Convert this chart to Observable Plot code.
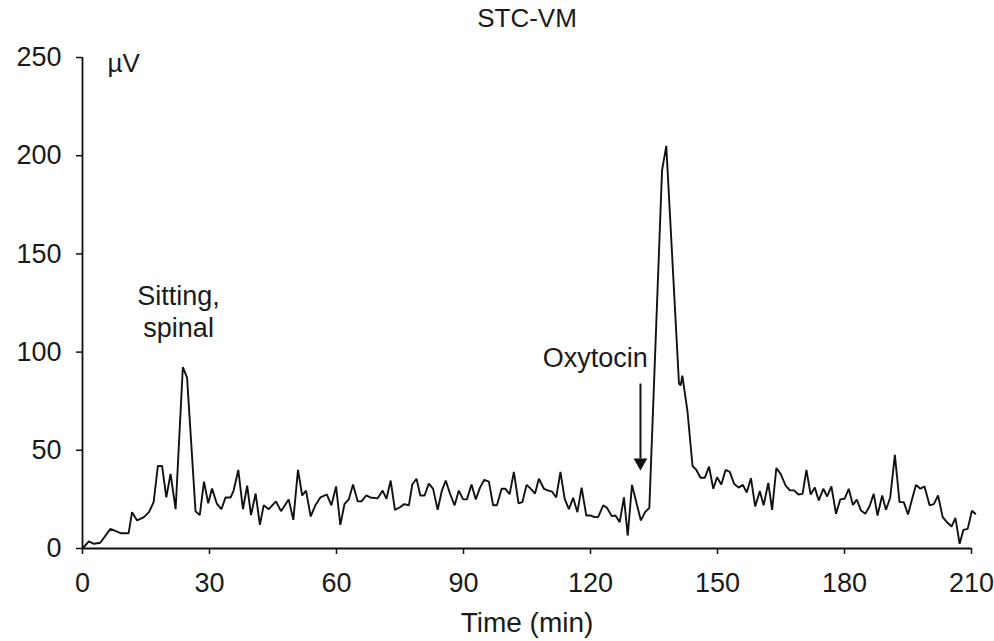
<!DOCTYPE html>
<html>
<head>
<meta charset="utf-8">
<script src="https://cdn.jsdelivr.net/npm/d3@7"></script>
<script src="https://cdn.jsdelivr.net/npm/@observablehq/plot@0.6"></script>
<style>
  body { margin: 0; background: #fff; }
</style>
</head>
<body>
<div id="chart"></div>
<script>
// ---- data ----
const title = "STC-VM";
const xLabel = "Time (min)";
const yUnit = "µV";
const xTicks = [0, 30, 60, 90, 120, 150, 180, 210];
const yTicks = [0, 50, 100, 150, 200, 250];

const time = [
  0, 1.5, 2.7, 4.2, 6.6, 9, 10.9, 11.7, 12.9, 14.5, 15.7, 16.8, 17.8, 18.8, 19.8, 20.8, 22,
  23.7, 24.7, 26.7, 27.7, 28.7, 29.7, 30.6, 31.7, 32.8, 33.8, 35, 35.7, 36.8, 37.9, 38.9, 39.8,
  40.9, 41.9, 42.8, 44, 45.7, 46.9, 48.7, 49.8, 50.9, 51.9, 52.8, 53.9, 55, 56.2, 57.7, 58.8,
  59.9, 60.9, 61.9, 62.9, 63.9, 65, 65.9, 67, 68, 69.7, 70.9, 71.8, 72.8, 73.8, 75, 76, 77.1,
  77.9, 78.9, 79.8, 80.8, 81.8, 82.8, 83.9, 84.9, 85.8, 86.8, 87.9, 88.9, 89.9, 90.8, 91.9,
  92.9, 93.9, 94.9, 96, 97, 97.9, 99, 99.9, 100.9, 101.9, 103, 103.9, 104.9, 105.9, 106.9,
  107.8, 109, 109.9, 110.9, 111.9, 112.9, 113.9, 114.9, 115.9, 116.9, 117.9, 119, 120, 121,
  121.8, 123, 123.9, 125, 125.9, 126.9, 127.9, 128.8, 129.8, 131, 131.9, 132.9, 133.9,
  136.9, 137.9, 140.9, 141.3, 141.7, 142.9, 144.1, 145, 146, 147, 148, 149, 149.9, 150.9,
  151.9, 152.9, 153.9, 155, 156, 156.9, 157.9, 158.9, 160, 160.9, 162, 162.9, 163.9, 164.9,
  166.1, 167.1, 168.1, 169.1, 170.1, 171, 172, 173, 173.9, 175, 175.9, 176.9, 178, 179, 180,
  181, 182, 182.9, 183.9, 184.9, 185.9, 186.9, 187.8, 188.9, 189.8, 190.8, 191.9, 193, 194,
  195, 196, 196.9, 197.9, 198.9, 200.1, 201.1, 202.1, 203.2, 204.2, 205.3, 206.2, 207.2,
  208.1, 209.1, 210.1, 210.9
];
const microvolts = [
  0, 3.6, 2.4, 2.9, 10, 7.8, 7.8, 18.5, 14.3, 16, 18.5, 23.6, 42, 42, 26, 38, 20,
  92.3, 87, 19, 17, 34, 23, 30.5, 23, 20, 26, 26, 29.5, 40, 20, 32, 17,
  28, 12, 22, 20, 24, 19, 25, 14.6, 40, 27, 29.5, 16.3, 22, 26, 27.5, 22,
  31.6, 12, 22.7, 25, 32.6, 24, 24, 27, 26, 25.5, 29.5, 25.3, 34.6, 19.7, 21, 22.6, 22,
  32.6, 35.5, 27, 27, 33, 30.5, 19.7, 29.5, 34.6, 28, 22, 29.5, 25, 25, 32.6,
  25, 31, 35, 34, 22, 22, 30.4, 30.4, 27.7, 39, 23, 23.6, 32.4, 30.4, 28,
  35.5, 30.4, 29.6, 29, 26, 39, 25.3, 20, 25.8, 18.5, 31, 16.8, 16.8, 16,
  16, 22, 20.7, 16.5, 16.8, 13.4, 26, 6.6, 32.4, 22, 14.3, 18.5, 20.7,
  192.5, 205, 84, 83, 88, 70, 42, 40, 36, 36, 41.7, 30.4, 36.3, 32.6,
  40, 39, 33, 31, 32.4, 28.5, 35.8, 21.4, 29.2, 22, 33.4, 19.7, 41, 38,
  32, 29.6, 29.6, 27.5, 27.8, 40, 27.5, 31, 24.4, 30.4, 26.5, 31.6, 17.7, 25, 25.3,
  30.4, 22.2, 24.9, 19.3, 17.7, 21.4, 27.8, 16.8, 27, 19.7, 26, 47.7, 23.6, 23.6,
  17.3, 25.5, 32.4, 30.4, 31.6, 22, 22.6, 27, 16, 13.4, 11.2, 15.6, 2.4,
  9.5, 10, 19.3, 17.7
];

// annotations (positions in data units)
const noteLabels = ["Sitting,\nspinal", "Oxytocin"];
const noteTimes = [22.7, 121.1];
const noteValues = [121, 97.8];
const arrowTimes = [131.8];
const arrowStart = [84];
const arrowEnd = [45.8];
const arrowTip = [43.8];

// ---- build tables ----
const series = time.map((t, i) => ({t, v: microvolts[i]}));
const notes = noteLabels.map((label, i) => ({label, t: noteTimes[i], v: noteValues[i]}));
const arrows = arrowTimes.map((t, i) => ({t, from: arrowStart[i], to: arrowEnd[i], tip: arrowTip[i]}));

const ink = "#111";

const chart = Plot.plot({
  width: 994,
  height: 641,
  marginTop: 57,
  marginBottom: 93,
  marginLeft: 82,
  marginRight: 23,
  x: {domain: [0, 210]},
  y: {domain: [0, 250]},
  style: {
    fontFamily: "'Liberation Sans', Arial, Helvetica, sans-serif",
    fontSize: "27px",
    color: "#1a1a1a",
    background: "#fff",
    overflow: "visible"
  },
  marks: [
    Plot.axisX({ticks: xTicks, tickSize: 6, tickPadding: 18, label: null, fontSize: 27, stroke: ink, strokeWidth: 1.5}),
    Plot.axisY({ticks: yTicks, tickSize: 6, tickPadding: 15, label: null, fontSize: 27, stroke: ink, strokeWidth: 1.5}),
    Plot.ruleX([0], {stroke: ink, strokeWidth: 1.8}),
    Plot.ruleY([0], {stroke: ink, strokeWidth: 1.8}),
    Plot.line(series, {x: "t", y: "v", stroke: ink, strokeWidth: 1.9, strokeLinejoin: "miter", clip: false}),
    Plot.text(notes, {x: "t", y: "v", text: "label", fontSize: 27, lineHeight: 1.2, fill: "#1a1a1a"}),
    Plot.link(arrows, {x1: "t", x2: "t", y1: "from", y2: "to", stroke: ink, strokeWidth: 2}),
    Plot.dot(arrows, {x: "t", y: "tip", symbol: "triangle", fill: ink, stroke: null, r: 5.1, rotate: 180}),
    Plot.text([title], {text: d => d, frameAnchor: "top", lineAnchor: "middle", dy: -39, fontSize: 26, fill: "#1a1a1a"}),
    Plot.text([xLabel], {text: d => d, frameAnchor: "bottom", lineAnchor: "middle", dy: 75, fontSize: 28, fill: "#1a1a1a"}),
    Plot.text([yUnit], {text: d => d, frameAnchor: "top-left", lineAnchor: "middle", textAnchor: "start", dx: 25, dy: 6, fontSize: 26, fill: "#1a1a1a"})
  ]
});

document.getElementById("chart").appendChild(chart);
</script>
</body>
</html>
